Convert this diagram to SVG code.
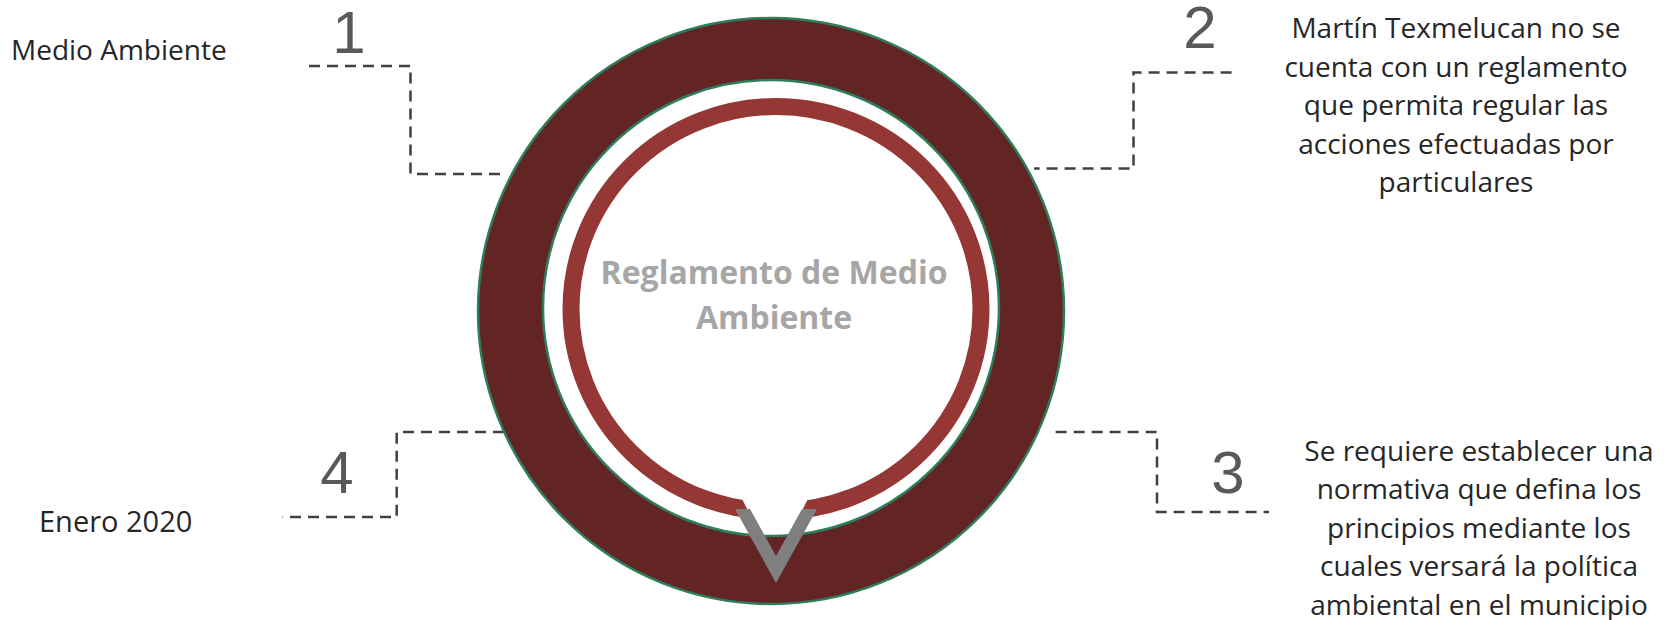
<svg xmlns="http://www.w3.org/2000/svg" width="1672" height="620" viewBox="0 0 1672 620">
  <style>
    .txt { font-family: "Open Sans", "Noto Sans", "Liberation Sans", sans-serif; font-size: 28px; fill: #262626; }
    .num { font-family: "Liberation Sans", Arial, sans-serif; font-size: 60px; fill: #595959; text-anchor: middle; }
    .title { font-family: "Open Sans", "Noto Sans", "Liberation Sans", sans-serif; font-size: 32px; font-weight: bold; fill: #a6a6a6; text-anchor: middle; }
    .dash { fill: none; stroke: #404040; stroke-width: 2.5; stroke-dasharray: 11 7; }
    .mid { text-anchor: middle; }
  </style>
  <defs>
    <mask id="cut" maskUnits="userSpaceOnUse" x="0" y="0" width="1672" height="620">
      <rect x="0" y="0" width="1672" height="620" fill="#fff"/>
      <polygon points="722.6,460 827.4,460 775,564.6" fill="#000"/>
    </mask>
  </defs>
  <rect width="1672" height="620" fill="#ffffff"/>

  <g id="connectors">
    <path class="dash" d="M309,66 H410.5 V174 H501"/>
    <path class="dash" d="M1231.6,72.5 H1133.5 V168.5 H1034"/>
    <path class="dash" d="M1055.6,432 H1157 V512 H1269"/>
    <path class="dash" d="M504,432 H396.7 V517 H282.6"/>
  </g>

  <g id="center">
    <circle cx="771" cy="311" r="293" fill="#632523" stroke="#2e7d5b" stroke-width="2.5"/>
    <circle cx="771" cy="308" r="228" fill="#ffffff" stroke="#2e7d5b" stroke-width="2.5"/>
    <ellipse cx="776" cy="309" rx="205" ry="202.5" fill="none" stroke="#953735" stroke-width="17" mask="url(#cut)"/>
    <polygon points="735,509 776,583 817,509 802,509 776,556 750,509" fill="#7f7f7f"/>
    <text class="title" x="774" y="284">Reglamento de Medio</text>
    <text class="title" x="774" y="329">Ambiente</text>
  </g>

  <g id="node1">
    <text class="num" x="349" y="53">1</text>
    <text class="txt" x="11" y="60">Medio Ambiente</text>
  </g>

  <g id="node2">
    <text class="num" x="1200" y="48">2</text>
    <text class="txt mid" x="1456" y="38">Martín Texmelucan no se</text>
    <text class="txt mid" x="1456" y="76.5">cuenta con un reglamento</text>
    <text class="txt mid" x="1456" y="115">que permita regular las</text>
    <text class="txt mid" x="1456" y="153.5">acciones efectuadas por</text>
    <text class="txt mid" x="1456" y="192">particulares</text>
  </g>

  <g id="node3">
    <text class="num" x="1228" y="493">3</text>
    <text class="txt mid" x="1479" y="461">Se requiere establecer una</text>
    <text class="txt mid" x="1479" y="499.4">normativa que defina los</text>
    <text class="txt mid" x="1479" y="537.8">principios mediante los</text>
    <text class="txt mid" x="1479" y="576.2">cuales versará la política</text>
    <text class="txt mid" x="1479" y="614.6">ambiental en el municipio</text>
  </g>

  <g id="node4">
    <text class="num" x="337" y="493">4</text>
    <text class="txt" x="39" y="532" style="font-size:29px">Enero 2020</text>
  </g>
</svg>
